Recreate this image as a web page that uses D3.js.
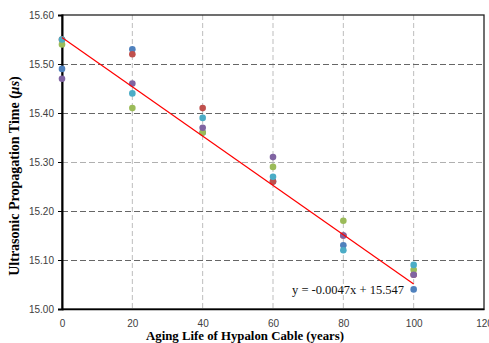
<!DOCTYPE html>
<html><head><meta charset="utf-8">
<script src="https://cdn.jsdelivr.net/npm/d3@7"></script>
<style>body{margin:0;background:#fff}svg{display:block}</style>
</head><body><svg id="c" width="489" height="343"></svg>
<script>
const ages = [0, 20, 40, 60, 80, 100];
const seriesNames = ["s1", "s2", "s3", "s4", "s5"];
const seriesColors = ["#4F81BD", "#C0504D", "#9BBB59", "#8064A2", "#4BACC6"];
const blueVals   = [15.49, 15.53, 15.36, 15.26, 15.13, 15.04];
const redVals    = [15.55, 15.52, 15.41, 15.26, 15.15, 15.07];
const greenVals  = [15.54, 15.41, 15.36, 15.29, 15.18, 15.08];
const purpleVals = [15.47, 15.46, 15.37, 15.31, 15.15, 15.07];
const cyanVals   = [15.55, 15.44, 15.39, 15.27, 15.12, 15.09];
const trendX = [0, 100];
const trendY = [15.554, 15.051];
const xTicks = [0, 20, 40, 60, 80, 100, 120];
const yTicks = [15.00, 15.10, 15.20, 15.30, 15.40, 15.50, 15.60];
const equation = "y = -0.0047x + 15.547";

const allVals = [blueVals, redVals, greenVals, purpleVals, cyanVals];
const svg = d3.select("#c");
const L = 62, R = 484, T = 15, B = 309;
const x = d3.scaleLinear().domain([0, 120]).range([L, R]);
const y = d3.scaleLinear().domain([15.0, 15.6]).range([B, T]);

// vertical grid
svg.append("g").selectAll("line").data(xTicks.filter(d => d > 0 && d < 120)).join("line")
  .attr("x1", d => x(d)).attr("x2", d => x(d)).attr("y1", T).attr("y2", B)
  .attr("stroke", "#bdbdbd").attr("stroke-width", 1).attr("stroke-dasharray", "5,3");
// horizontal grid
svg.append("g").selectAll("line").data(yTicks.filter(d => d > 15.0 && d < 15.6)).join("line")
  .attr("x1", L).attr("x2", R).attr("y1", d => Math.round(y(d)) + 0.5).attr("y2", d => Math.round(y(d)) + 0.5)
  .attr("stroke", d => Math.abs(d - 15.3) < 1e-6 ? "#b0b0b0" : "#666")
  .attr("stroke-width", 1).attr("stroke-dasharray", "6,3");

// border
svg.append("rect").attr("x", L).attr("y", T).attr("width", R - L).attr("height", B - T)
  .attr("fill", "none").attr("stroke", "#222").attr("stroke-width", 1.3);

// axes
const yAxis = d3.axisLeft(y).tickValues(yTicks).tickFormat(d3.format(".2f")).tickSize(4);
const gy = svg.append("g").attr("transform", `translate(${L},0)`).call(yAxis);
gy.select(".domain").attr("stroke", "#000").attr("stroke-width", 2);
gy.selectAll("text").attr("font-family", "Liberation Sans, Arial, sans-serif").attr("font-size", 10).attr("fill", "#404040").attr("x", -8);
gy.selectAll(".tick line").attr("stroke", "#000");

const xAxis = d3.axisBottom(x).tickValues(xTicks).tickFormat(d3.format("d")).tickSize(0);
const gx = svg.append("g").attr("transform", `translate(0,${B})`).call(xAxis);
gx.select(".domain").attr("stroke", "#000").attr("stroke-width", 1.5);
gx.selectAll("text").attr("font-family", "Liberation Sans, Arial, sans-serif").attr("font-size", 10).attr("fill", "#404040").attr("y", 11);

// points
seriesNames.forEach((s, i) => {
  svg.append("g").selectAll("circle").data(ages.map((a, j) => [a, allVals[i][j]])).join("circle")
    .attr("cx", d => x(d[0])).attr("cy", d => y(d[1])).attr("r", 3.3)
    .attr("fill", seriesColors[i]);
});

// trend line
svg.append("line").attr("x1", x(trendX[0])).attr("y1", y(trendY[0]))
  .attr("x2", x(trendX[1])).attr("y2", y(trendY[1]))
  .attr("stroke", "#FF0000").attr("stroke-width", 1.2);

// equation
svg.append("text").attr("x", 292).attr("y", 294).text(equation)
  .attr("font-family", "Liberation Serif, Times New Roman, serif").attr("font-size", 12.5).attr("fill", "#111");

// axis titles
svg.append("text").attr("x", 245).attr("y", 340).attr("text-anchor", "middle")
  .attr("font-family", "Liberation Serif, Times New Roman, serif").attr("font-size", 12.8).attr("font-weight", "bold")
  .text("Aging Life of Hypalon Cable (years)");
const yt = svg.append("text").attr("transform", `translate(19,176) rotate(-90)`).attr("text-anchor", "middle")
  .attr("font-family", "Liberation Serif, Times New Roman, serif").attr("font-size", 14).attr("font-weight", "bold");
yt.append("tspan").text("Ultrasonic Propagation Time (");
yt.append("tspan").attr("font-style", "italic").text("μs");
yt.append("tspan").text(")");
</script></body></html>
